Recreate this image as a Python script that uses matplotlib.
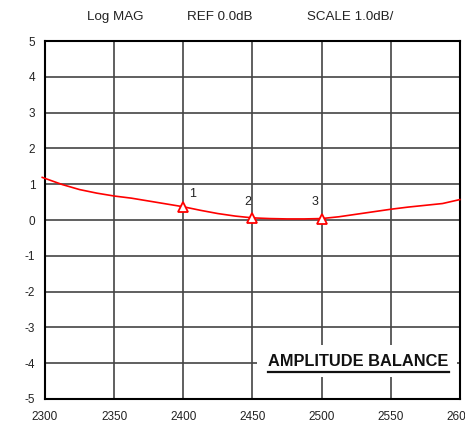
import matplotlib
matplotlib.use("Agg")
import matplotlib.pyplot as plt
from matplotlib.lines import Line2D

plt.rcParams['font.family'] = ['Liberation Sans', 'DejaVu Sans']
plt.rcParams['axes.unicode_minus'] = False

freq = [2298, 2312.5, 2325, 2337.5, 2350, 2362.5, 2375, 2387.5, 2400, 2412.5, 2425,
        2437.5, 2450, 2462.5, 2475, 2487.5, 2500, 2512.5, 2525, 2537.5, 2550,
        2562.5, 2575, 2587.5, 2600]
mag = [1.19, 0.99, 0.85, 0.75, 0.67, 0.61, 0.53, 0.45, 0.37, 0.27, 0.18,
       0.11, 0.06, 0.04, 0.03, 0.03, 0.04, 0.09, 0.16, 0.23, 0.30,
       0.36, 0.41, 0.46, 0.57]
marker_freq = [2400, 2450, 2500]
marker_mag = [0.37, 0.06, 0.04]
marker_labels = ['1', '2', '3']
xticks = [2300, 2350, 2400, 2450, 2500, 2550, 2600]
yticks = [-5, -4, -3, -2, -1, 0, 1, 2, 3, 4, 5]
header = ['Log MAG', 'REF 0.0dB', 'SCALE 1.0dB/']
box_text = 'AMPLITUDE BALANCE'

fig = plt.figure(figsize=(4.65, 4.25), dpi=100)
ax = fig.add_axes([0.0968, 0.0612, 0.892, 0.8423])
ax.set_xlim(2300, 2600)
ax.set_ylim(-5, 5)
ax.set_xticks(xticks)
ax.set_yticks(yticks)
ax.set_xticklabels([str(t) for t in xticks])
ax.set_yticklabels([str(t) for t in yticks])
ax.tick_params(length=0, labelsize=8.5, colors='#222222')
ax.tick_params(axis='x', pad=9)
ax.tick_params(axis='y', pad=7)
ax.grid(True, color='#444444', lw=1.2)
ax.set_axisbelow(True)
for s in ax.spines.values():
    s.set_color('black')
    s.set_linewidth(1.5)

ax.plot(freq, mag, color='red', lw=1.2, clip_on=False, zorder=3)
ax.plot(marker_freq, marker_mag, ls='none', marker='^', ms=7, mfc='white',
        mec='red', mew=1.3, zorder=4)
offs = [(9, 0.36), (-5, 0.45), (-7, 0.47)]
for f, m, lab, (dx, dy) in zip(marker_freq, marker_mag, marker_labels, offs):
    ax.text(f + dx * 50 / 69, m + dy, lab, fontsize=9, ha='center', va='center',
            color='#222222')

# header
hx = [115, 220, 350]
for x, t in zip(hx, header):
    fig.text(x / 465, 1 - 17 / 425, t, fontsize=9.6, ha='center', va='center',
             color='#222222')

# annotation box
bx0, bx1, by0, by1 = 257, 457, 345, 377
ax.add_patch(plt.Rectangle((bx0 / 465, 1 - by1 / 425), (bx1 - bx0) / 465,
                           (by1 - by0) / 425, transform=fig.transFigure,
                           facecolor='white', edgecolor='none', zorder=5))
t = fig.text(358.5 / 465, 1 - 362 / 425, box_text, fontsize=11.8, fontweight='bold',
             ha='center', va='center', color='#111111', zorder=6)
fig.canvas.draw()
bb = t.get_window_extent()
uy = 1 - 372 / 425
fig.add_artist(Line2D([bb.x0 / 465, bb.x1 / 465], [uy, uy], transform=fig.transFigure,
                      color='#111111', lw=1.6, zorder=6))

fig.savefig('out.png', dpi=100)
